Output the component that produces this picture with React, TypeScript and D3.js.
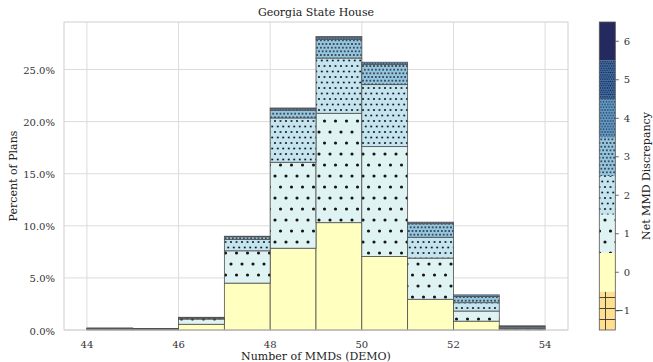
import React from 'react';
import * as d3 from 'd3';

const bins = [44, 45, 46, 47, 48, 49, 50, 51, 52, 53];
const levels = [-1, 0, 1, 2, 3, 4, 5, 6];
const levelColors = ['#fee090', '#ffffbf', '#e0f3f3', '#c4e4f0', '#95c6e1', '#649dcd', '#4070b3', '#2d378f'];
// percent of plans per discrepancy level, per bin
const lvlNeg1 = [0, 0, 0, 0, 0, 0, 0, 0, 0, 0];
const lvl0 = [0.03, 0.03, 0.55, 4.5, 7.85, 10.3, 7.05, 2.95, 0.85, 0.05];
const lvl1 = [0.06, 0.07, 0.5, 3.1, 8.25, 10.5, 10.55, 3.95, 0.97, 0.1];
const lvl2 = [0.05, 0.03, 0.1, 1.1, 4.25, 5.3, 5.95, 2.0, 0.8, 0.12];
const lvl3 = [0.03, 0.02, 0.05, 0.25, 0.75, 1.8, 1.95, 1.3, 0.6, 0.08];
const lvl4 = [0.02, 0, 0.02, 0.05, 0.18, 0.22, 0.2, 0.15, 0.15, 0.05];
const lvl5 = [0, 0, 0, 0, 0.02, 0.03, 0, 0, 0, 0];
const lvl6 = [0, 0, 0, 0, 0, 0, 0, 0, 0, 0];
const levelSeries = [lvlNeg1, lvl0, lvl1, lvl2, lvl3, lvl4, lvl5, lvl6];
const xTicks = [44, 46, 48, 50, 52, 54];
const yTicks = [0, 5, 10, 15, 20, 25];

const W = 653, H = 362;
const M = { left: 64, right: 568, top: 22, bottom: 330 };
const CB = { x0: 599.3, x1: 615.3 };
const FONT = 'DejaVu Serif';

function Pattern({ level, i }: { level: number; i: number }) {
  const id = `pat${i}`;
  const color = levelColors[i];
  if (level === -1) {
    const s = 11;
    return (
      <pattern id={id} patternUnits="userSpaceOnUse" width={s} height={s}>
        <rect width={s} height={s} fill={color} />
        <path d={`M0,0.5H${s}M0.5,0V${s}`} stroke="#333" strokeWidth={0.9} />
      </pattern>
    );
  }
  if (level === 0) {
    return (
      <pattern id={id} patternUnits="userSpaceOnUse" width={10} height={10}>
        <rect width={10} height={10} fill={color} />
      </pattern>
    );
  }
  const s = 11 / level;
  const r = 0.1 * s + 0.48;
  const pts = [[0, 0], [s, 0], [0, 2 * s], [s, 2 * s], [s / 2, s]];
  return (
    <pattern id={id} patternUnits="userSpaceOnUse" width={s} height={2 * s}>
      <rect width={s} height={2 * s} fill={color} />
      {pts.map(([cx, cy], k) => (
        <circle key={k} cx={cx} cy={cy} r={r} fill="#151515" />
      ))}
    </pattern>
  );
}

export default function App() {
  const x = d3.scaleLinear().domain([43.5, 54.5]).range([M.left, M.right]);
  const y = d3.scaleLinear().domain([0, 29.56]).range([M.bottom, M.top]);
  const cb = d3.scaleLinear().domain([-1.5, 6.5]).range([M.bottom, M.top]);

  const rows = bins.map((b, bi) => {
    const row: any = { bin: b };
    levels.forEach((l, li) => (row[`l${li}`] = levelSeries[li][bi]));
    return row;
  });
  const keys = levels.map((_, li) => `l${li}`);
  const stacked = d3.stack().keys(keys)(rows);

  return (
    <svg width={W} height={H} style={{ position: 'absolute', left: 0, top: 0, display: 'block' }} fontFamily={FONT}>
      <defs>
        {levels.map((l, i) => (
          <Pattern key={i} level={l} i={i} />
        ))}
      </defs>
      <rect x={0} y={0} width={W} height={H} fill="#fff" />
      {/* grid */}
      {xTicks.map((t) => (
        <line key={`gx${t}`} x1={x(t)} x2={x(t)} y1={M.top} y2={M.bottom} stroke="#dcdcdc" strokeWidth={1} />
      ))}
      {yTicks.map((t) => (
        <line key={`gy${t}`} x1={M.left} x2={M.right} y1={y(t)} y2={y(t)} stroke="#dcdcdc" strokeWidth={1} />
      ))}
      {/* bars */}
      {stacked.map((series, li) =>
        series.map((d, bi) => {
          const v = d[1] - d[0];
          if (v <= 0) return null;
          const b = bins[bi];
          return (
            <rect
              key={`b${li}-${bi}`}
              x={x(b)}
              width={x(b + 1) - x(b)}
              y={y(d[1])}
              height={y(d[0]) - y(d[1])}
              fill={`url(#pat${li})`}
              stroke="#505050"
              strokeWidth={0.8}
            />
          );
        })
      )}
      {/* frame */}
      <rect x={M.left} y={M.top} width={M.right - M.left} height={M.bottom - M.top} fill="none" stroke="#d0d0d0" strokeWidth={1} />
      {/* ticks */}
      {xTicks.map((t) => (
        <text key={`tx${t}`} x={x(t)} y={347.5} textAnchor="middle" fontSize={10} fill="#333">
          {t}
        </text>
      ))}
      {yTicks.map((t) => (
        <text key={`ty${t}`} x={55} y={y(t) + 4.5} textAnchor="end" fontSize={10} fill="#333">
          {`${t.toFixed(1)}%`}
        </text>
      ))}
      <text x={(M.left + M.right) / 2} y={16} textAnchor="middle" fontSize={11} fill="#222">
        Georgia State House
      </text>
      <text x={(M.left + M.right) / 2} y={359.5} textAnchor="middle" fontSize={11} fill="#222">
        Number of MMDs (DEMO)
      </text>
      <text transform={`translate(16.5,${(M.top + M.bottom) / 2}) rotate(-90)`} textAnchor="middle" fontSize={11} fill="#222">
        Percent of Plans
      </text>
      {/* colorbar */}
      {levels.map((l, i) => (
        <rect
          key={`cb${l}`}
          x={CB.x0}
          width={CB.x1 - CB.x0}
          y={cb(l + 0.5)}
          height={cb(l - 0.5) - cb(l + 0.5)}
          fill={`url(#pat${i})`}
        />
      ))}
      <rect x={CB.x0} y={M.top} width={CB.x1 - CB.x0} height={M.bottom - M.top} fill="none" stroke="#555" strokeWidth={0.8} />
      {levels.map((l) => (
        <g key={`ct${l}`}>
          <line x1={CB.x1} x2={CB.x1 + 3.5} y1={cb(l)} y2={cb(l)} stroke="#444" strokeWidth={0.8} />
          <text x={630} y={cb(l) + 3.6} textAnchor="end" fontSize={10} fill="#333">
            {l < 0 ? `\u2212${Math.abs(l)}` : `${l}`}
          </text>
        </g>
      ))}
      <text transform={`translate(649.5,${(M.top + M.bottom) / 2}) rotate(-90)`} textAnchor="middle" fontSize={11} fill="#222">
        Net MMD Discrepancy
      </text>
    </svg>
  );
}
